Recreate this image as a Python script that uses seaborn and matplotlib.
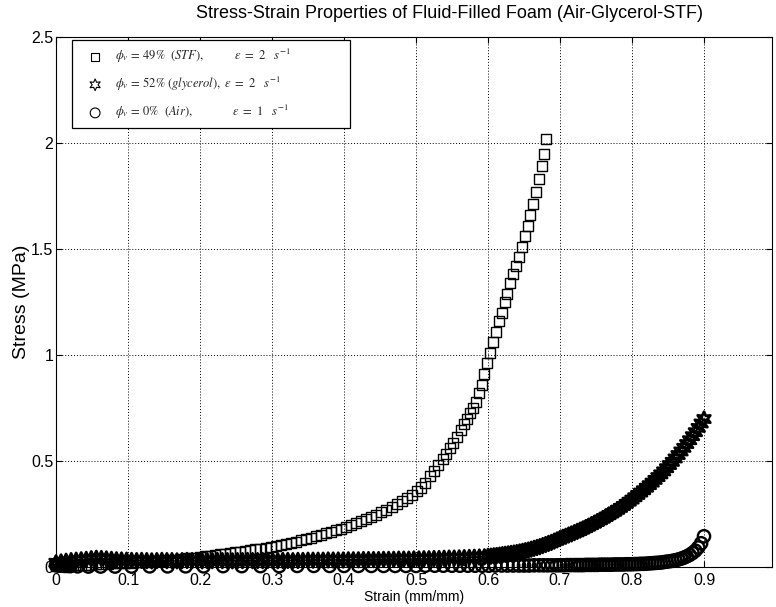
import matplotlib
matplotlib.use("Agg")
import matplotlib.pyplot as plt
from matplotlib.ticker import FormatStrFormatter
from matplotlib.font_manager import FontProperties
import seaborn as sns
import pandas as pd

# ---------------- data ----------------
stf_strain = [0.000, 0.008, 0.016, 0.024, 0.032, 0.040, 0.048, 0.056, 0.064, 0.072,
              0.080, 0.088, 0.096, 0.104, 0.112, 0.120, 0.128, 0.136, 0.144, 0.152,
              0.160, 0.168, 0.176, 0.184, 0.192, 0.200,
              0.207, 0.214, 0.221, 0.228, 0.235, 0.242, 0.249, 0.256, 0.263, 0.270,
              0.277, 0.284, 0.291, 0.298, 0.305, 0.312, 0.319, 0.326, 0.333, 0.340,
              0.347, 0.354, 0.361, 0.368, 0.375, 0.382, 0.389, 0.396, 0.403, 0.410,
              0.417, 0.424, 0.431, 0.438, 0.445, 0.452, 0.459, 0.466, 0.473, 0.480,
              0.487, 0.494, 0.501,
              0.507, 0.513, 0.519, 0.525, 0.531, 0.537, 0.542, 0.547, 0.552, 0.557,
              0.562, 0.567, 0.571, 0.575, 0.579, 0.583, 0.587, 0.591, 0.595, 0.599,
              0.603, 0.607, 0.611, 0.615, 0.619, 0.623, 0.627, 0.631, 0.635, 0.639,
              0.643, 0.647, 0.651, 0.655, 0.659, 0.663, 0.667, 0.671, 0.675, 0.678,
              0.681]
stf_stress = [0.005, 0.006, 0.007, 0.008, 0.009, 0.010, 0.011, 0.013, 0.014, 0.015,
              0.017, 0.018, 0.019, 0.021, 0.022, 0.024, 0.025, 0.027, 0.029, 0.031,
              0.033, 0.035, 0.038, 0.041, 0.044, 0.048,
              0.051, 0.054, 0.057, 0.060, 0.063, 0.066, 0.070, 0.073, 0.076, 0.079,
              0.083, 0.086, 0.090, 0.094, 0.098, 0.103, 0.108, 0.114, 0.120, 0.126,
              0.132, 0.138, 0.145, 0.152, 0.159, 0.166, 0.173, 0.181, 0.189, 0.198,
              0.207, 0.216, 0.226, 0.236, 0.247, 0.258, 0.270, 0.283, 0.296, 0.310,
              0.325, 0.340, 0.357,
              0.375, 0.395, 0.430, 0.455, 0.480, 0.510, 0.535, 0.560, 0.585, 0.615,
              0.645, 0.675, 0.700, 0.725, 0.750, 0.780, 0.820, 0.860, 0.910, 0.960,
              1.010, 1.060, 1.110, 1.160, 1.200, 1.250, 1.290, 1.340, 1.380, 1.420,
              1.460, 1.510, 1.560, 1.610, 1.660, 1.710, 1.770, 1.830, 1.890, 1.950,
              2.020]

gly_strain = [0.000, 0.007, 0.014, 0.021, 0.028, 0.035, 0.042, 0.049, 0.056, 0.063,
              0.070, 0.077, 0.084, 0.091, 0.098, 0.105,
              0.112, 0.119, 0.126, 0.133, 0.140, 0.147, 0.154, 0.161, 0.168, 0.175,
              0.182, 0.189, 0.196, 0.203, 0.210, 0.217, 0.224, 0.231, 0.238, 0.245,
              0.252, 0.259, 0.266, 0.273, 0.280, 0.287, 0.294, 0.301, 0.308, 0.315,
              0.322, 0.329, 0.336, 0.343, 0.350,
              0.357, 0.364, 0.371, 0.378, 0.385, 0.392, 0.399, 0.406, 0.413, 0.420,
              0.427, 0.434, 0.441, 0.448, 0.455, 0.462, 0.469, 0.476, 0.483, 0.490,
              0.497, 0.504, 0.511, 0.518, 0.525, 0.532, 0.539, 0.546, 0.553, 0.560,
              0.567, 0.574, 0.581, 0.588, 0.595,
              0.600, 0.604, 0.608, 0.612, 0.616, 0.620, 0.624, 0.628, 0.632, 0.636,
              0.640, 0.644, 0.648, 0.652, 0.656, 0.660, 0.664, 0.668, 0.672, 0.676,
              0.680, 0.684, 0.688, 0.692, 0.696, 0.700, 0.704, 0.708, 0.712, 0.716,
              0.720, 0.724, 0.728, 0.732, 0.736, 0.740, 0.744, 0.748, 0.752, 0.756,
              0.760, 0.764, 0.768, 0.772, 0.776, 0.780, 0.784, 0.788, 0.792, 0.796,
              0.800, 0.804, 0.808, 0.812, 0.816, 0.820, 0.824, 0.828, 0.832, 0.836,
              0.840, 0.844, 0.848, 0.852, 0.856, 0.860, 0.864, 0.868, 0.872, 0.876,
              0.880, 0.884, 0.888, 0.892, 0.896, 0.900]
gly_stress = [0.020, 0.024, 0.027, 0.030, 0.032, 0.034, 0.036, 0.039, 0.041, 0.040,
              0.038, 0.036, 0.034, 0.033, 0.032, 0.031,
              0.030, 0.031, 0.030, 0.029, 0.030, 0.031, 0.030, 0.030, 0.029, 0.030,
              0.031, 0.030, 0.030, 0.029, 0.030, 0.030, 0.031, 0.030, 0.030, 0.029,
              0.030, 0.030, 0.031, 0.030, 0.030, 0.030, 0.031, 0.030, 0.030, 0.031,
              0.031, 0.030, 0.031, 0.031, 0.032,
              0.032, 0.032, 0.032, 0.033, 0.033, 0.033, 0.033, 0.034, 0.034, 0.034,
              0.035, 0.035, 0.035, 0.035, 0.036, 0.036, 0.036, 0.037, 0.037, 0.037,
              0.038, 0.038, 0.039, 0.039, 0.040, 0.040, 0.041, 0.042, 0.042, 0.043,
              0.044, 0.045, 0.046, 0.047, 0.048,
              0.050, 0.051, 0.053, 0.054, 0.056, 0.058, 0.060, 0.062, 0.064, 0.066,
              0.068, 0.071, 0.074, 0.077, 0.080, 0.084, 0.088, 0.092, 0.096, 0.101,
              0.106, 0.111, 0.116, 0.122, 0.128, 0.134, 0.140, 0.145, 0.151, 0.156,
              0.162, 0.168, 0.174, 0.180, 0.186, 0.193, 0.200, 0.207, 0.214, 0.221,
              0.229, 0.237, 0.245, 0.253, 0.261, 0.270, 0.279, 0.288, 0.298, 0.308,
              0.318, 0.329, 0.340, 0.351, 0.362, 0.374, 0.386, 0.398, 0.411, 0.424,
              0.437, 0.451, 0.466, 0.481, 0.496, 0.512, 0.528, 0.545, 0.562, 0.580,
              0.598, 0.617, 0.636, 0.656, 0.677, 0.698]

air_strain = [0.000, 0.004, 0.008, 0.012, 0.016, 0.020,
              0.030, 0.045, 0.062, 0.082, 0.105, 0.130, 0.155, 0.180, 0.205, 0.232,
              0.258, 0.284, 0.310, 0.335, 0.358, 0.380, 0.400, 0.420, 0.438, 0.455,
              0.471, 0.486, 0.500, 0.513, 0.526, 0.538, 0.550, 0.561, 0.572, 0.582,
              0.592, 0.601, 0.610, 0.619, 0.627, 0.635, 0.643, 0.650, 0.657, 0.664,
              0.671, 0.677, 0.683, 0.689, 0.695, 0.700, 0.705, 0.710, 0.715, 0.720,
              0.724, 0.728, 0.732, 0.736, 0.740, 0.744, 0.748, 0.752, 0.756, 0.760,
              0.764, 0.768, 0.772, 0.776, 0.780, 0.784, 0.788, 0.792, 0.796, 0.800,
              0.804, 0.808, 0.812, 0.816, 0.820, 0.824, 0.828, 0.832, 0.836, 0.840,
              0.844, 0.848, 0.852, 0.856, 0.860, 0.864, 0.868, 0.872, 0.876, 0.880,
              0.884, 0.888, 0.892, 0.896, 0.900]
air_stress = [0.008, 0.007, 0.006, 0.005, 0.005, 0.004,
              0.003, 0.002, 0.002, 0.002, 0.002, 0.003, 0.003, 0.003, 0.003, 0.004,
              0.004, 0.004, 0.004, 0.005, 0.005, 0.005, 0.005, 0.005, 0.005, 0.005,
              0.005, 0.005, 0.005, 0.006, 0.006, 0.006, 0.006, 0.006, 0.006, 0.006,
              0.006, 0.006, 0.007, 0.007, 0.007, 0.007, 0.007, 0.007, 0.007, 0.008,
              0.008, 0.008, 0.008, 0.008, 0.008, 0.008, 0.008, 0.009, 0.009, 0.009,
              0.009, 0.009, 0.009, 0.010, 0.010, 0.010, 0.010, 0.010, 0.011, 0.011,
              0.011, 0.011, 0.011, 0.012, 0.012, 0.012, 0.012, 0.013, 0.013, 0.013,
              0.014, 0.014, 0.015, 0.015, 0.016, 0.017, 0.018, 0.019, 0.020, 0.021,
              0.023, 0.025, 0.027, 0.029, 0.032, 0.035, 0.039, 0.044, 0.050, 0.057,
              0.066, 0.077, 0.092, 0.112, 0.145]

series_labels = [
    r"$\phi_v\,=\,49\%\ \ (STF),\ \ \ \ \ \ \ \ \ \ \varepsilon\ =\ 2\ \ \ s^{-1}$",
    r"$\phi_v\,=\,52\%\ (glycerol),\ \varepsilon\ =\ 2\ \ \ s^{-1}$",
    r"$\phi_v\,=\,0\%\ \ (Air),\ \ \ \ \ \ \ \ \ \ \ \ \ \varepsilon\ =\ 1\ \ \ s^{-1}$",
]
x_ticks = [0, 0.1, 0.2, 0.3, 0.4, 0.5, 0.6, 0.7, 0.8, 0.9]
y_ticks = [0, 0.5, 1, 1.5, 2, 2.5]

title_text = "Stress-Strain Properties of Fluid-Filled Foam (Air-Glycerol-STF)"
x_label = "Strain (mm/mm)"
y_label = "Stress (MPa)"

# ---------------- style ----------------
sns.set_theme(style="white")
plt.rcParams["font.family"] = ["Liberation Sans", "DejaVu Sans"]
plt.rcParams["mathtext.fontset"] = "stix"

fig = plt.figure(figsize=(7.76, 6.07), dpi=100)
W, H = 776, 607
ax = fig.add_axes([56 / W, (H - 567) / H, (772 - 56) / W, (567 - 37) / H])

df_stf = pd.DataFrame({"strain": stf_strain, "stress": stf_stress})
df_gly = pd.DataFrame({"strain": gly_strain, "stress": gly_stress})
df_air = pd.DataFrame({"strain": air_strain, "stress": air_stress})

common = dict(facecolor="none", edgecolor="black", clip_on=False, zorder=3)
sns.scatterplot(data=df_stf, x="strain", y="stress", marker="s", s=52, linewidth=1.0,
                label=series_labels[0], ax=ax, **common)
sns.scatterplot(data=df_gly, x="strain", y="stress", marker=(6, 1, 0), s=110, linewidth=2.0,
                label=series_labels[1], ax=ax, **common)
sns.scatterplot(data=df_air, x="strain", y="stress", marker="o", s=78, linewidth=1.7,
                label=series_labels[2], ax=ax, **common)

ax.set_xlim(0, (772 - 56) / 720)
ax.set_ylim(0, 2.5)
ax.set_xticks(x_ticks)
ax.set_yticks(y_ticks)
ax.xaxis.set_major_formatter(FormatStrFormatter("%g"))
ax.yaxis.set_major_formatter(FormatStrFormatter("%g"))
ax.tick_params(direction="in", length=4, width=0.8, colors="black", labelsize=11.5,
               top=True, right=True, bottom=True, left=True)
ax.tick_params(axis="x", pad=4)
ax.tick_params(axis="y", pad=2)
for sp in ax.spines.values():
    sp.set_visible(True)
    sp.set_color("black")
    sp.set_linewidth(0.8)
ax.grid(True, linestyle=(0, (1, 2)), color="black", linewidth=0.7)
ax.set_axisbelow(True)

ax.set_title(title_text, fontsize=13, color="black", pad=14, x=(450 - 56) / 716)
ax.set_xlabel(x_label, fontsize=10, color="black", labelpad=1.5)
ax.set_ylabel(y_label, fontsize=14, color="black", labelpad=1)

leg_font = FontProperties(family=["Liberation Serif", "DejaVu Serif"], size=9)
leg = ax.legend(loc="upper left", bbox_to_anchor=(16 / 716, 0.0, 278 / 716, 1 - 3 / 530),
                mode="expand", borderaxespad=0, prop=leg_font, frameon=True,
                fancybox=False, edgecolor="black", framealpha=1, labelspacing=0.8,
                borderpad=0.55, handletextpad=0.3, handlelength=2.6, markerscale=0.8)
leg.get_frame().set_linewidth(0.9)
for h in leg.legend_handles:
    h.set_linewidth(0.8)

fig.savefig("out.png", dpi=100)
